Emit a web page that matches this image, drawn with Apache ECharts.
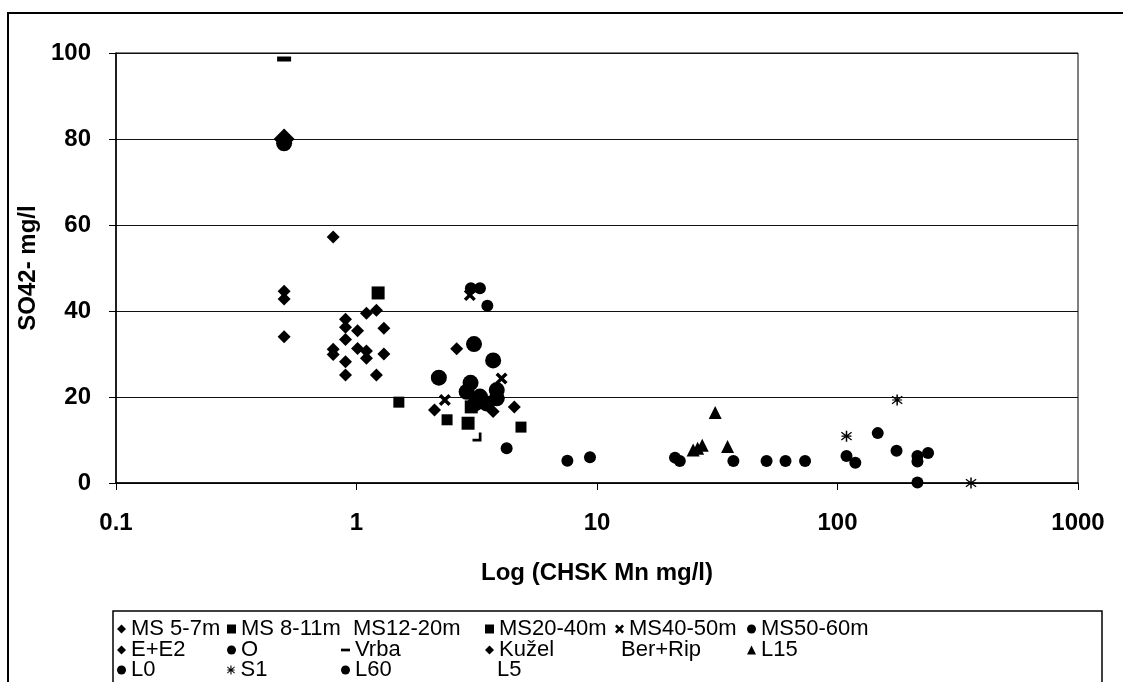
<!DOCTYPE html>
<html>
<head>
<meta charset="utf-8">
<script src="https://cdn.jsdelivr.net/npm/echarts@6/dist/echarts.min.js"></script>
<style>
html,body{margin:0;padding:0;background:#fff;}
#c{width:1123px;height:682px;}
</style>
</head>
<body>
<div id="c"></div>
<script>
// ---- data (x = CHSK Mn mg/l, y = SO42- mg/l) ----
const xTicks = [0.1, 1, 10, 100, 1000];
const yTicks = [0, 20, 40, 60, 80, 100];
const ms57 = [[0.8,31.1],[0.8,29.9],[0.9,38.1],[0.9,36.2],[0.9,33.4],[0.9,28.2],[0.9,25.1],[1.01,35.4],[1.01,31.3],[1.1,39.5],[1.1,30.7],[1.1,29.0],[1.21,40.2],[1.21,25.1],[1.3,36.0],[1.3,30.0]];
const ms811 = [[1.5,18.8],[2.38,14.7],[4.83,13.0]];
const ms1220 = [[3.17,10.7]];
const ms2040 = [[1.23,44.2],[2.91,13.9],[3.0,17.7]];
const ms4050 = [[2.96,43.7],[4.01,24.3],[2.33,19.3]];
const ms5060 = [[2.99,45.3],[3.26,45.3],[3.5,41.2],[4.21,8.1],[7.53,5.2],[9.35,6.0]];
const ee2 = [[0.5,44.6],[0.5,42.8],[0.5,34.0],[0.8,57.2],[2.61,31.2],[4.53,17.7],[3.7,16.6],[2.11,17.0]];
const oData = [[0.5,79],[3.08,32.3],[3.7,28.5],[2.2,24.5],[2.98,23.3],[2.87,21.2],[3.26,20.1],[3.83,21.6],[3.83,19.7],[3.47,18.5],[3.12,18.5]];
const vrba = [[0.5,98.6]];
const kuzel = [[0.5,80]];
const berRip = [];
const l15 = [[25.1,7.7],[26.2,8.1],[27.4,8.8],[31.0,16.4],[34.9,8.5]];
const l0 = [[21.1,5.9],[22.1,5.1],[36.9,5.1],[50.7,5.1],[60.8,5.1],[73.3,5.1]];
const s1 = [[109,10.9],[177,19.3],[359,0]];
const l60 = [[109,6.3],[118.6,4.7],[147,11.6],[176,7.5],[215,6.3],[215,5.0],[238,7.0],[215,0.1]];
const l5 = [];

const seriesNames = ['MS 5-7m','MS 8-11m','MS12-20m','MS20-40m','MS40-50m','MS50-60m','E+E2','O','Vrba','Kužel','Ber+Rip','L15','L0','S1','L60','L5'];

// ---- styles ----
const X_PATH = 'path://M0,2 L2,0 L5,3 L8,0 L10,2 L7,5 L10,8 L8,10 L5,7 L2,10 L0,8 L3,5 Z';
const AST_PATH = 'path://M4.4,0 L5.6,0 L5.6,10 L4.4,10 Z M0.6,2.0 L1.2,1.1 L9.4,8.0 L8.8,8.9 Z M8.8,1.1 L9.4,2.0 L1.2,8.9 L0.6,8.0 Z M1,4.5 L9,4.5 L9,5.5 L1,5.5 Z';
const L_PATH = 'path://M7,0 L10,0 L10,10 L0,10 L0,7 L7,7 Z';
const DASH_PATH = 'path://M0,0 L10,0 L10,3 L0,3 Z';
const FONT = 'Liberation Sans, Arial, sans-serif';
const NARROW = 'Liberation Sans Narrow, Liberation Sans, Arial, sans-serif';

function sc(name, data, symbol, size, z){
  return {name:name, type:'scatter', data:data, symbol:symbol, symbolSize:size,
    itemStyle:{color:'#000', opacity:1}, z: z||2, silent:true};
}

const series = [
  sc('MS 5-7m', ms57, 'diamond', 13),
  sc('MS 8-11m', ms811, 'rect', 11),
  sc('MS12-20m', ms1220, L_PATH, 9),
  sc('MS20-40m', ms2040, 'rect', 13),
  sc('MS40-50m', ms4050, X_PATH, 12),
  sc('MS50-60m', ms5060, 'circle', 12),
  sc('E+E2', ee2, 'diamond', 13),
  sc('O', oData, 'circle', 16),
  sc('Vrba', vrba, 'rect', [14,5]),
  sc('Kužel', kuzel, 'diamond', 21, 3),
  sc('Ber+Rip', berRip, 'none', 8),
  sc('L15', l15, 'triangle', 13),
  sc('L0', l0, 'circle', 12),
  sc('S1', s1, AST_PATH, 11),
  sc('L60', l60, 'circle', 12),
  sc('L5', l5, 'none', 8)
];

// legend: one small legend per entry, laid out in a 6-column grid
const colX = [117, 227, 341, 485, 615, 747];
const rowY = [618, 639, 659];
const noIcon = {'MS12-20m':2,'Ber+Rip':8,'L5':2};
const iconOverride = {'Vrba': DASH_PATH};
const legends = seriesNames.map((n, i) => {
  let item = {name:n};
  if (noIcon[n] !== undefined) item.icon = 'none';
  if (iconOverride[n]) item.icon = iconOverride[n];
  return {
    orient:'horizontal', left: colX[i % 6] - (noIcon[n] || 0), top: rowY[Math.floor(i / 6)], padding:0,
    itemWidth: 9, itemHeight: 9, selectedMode:false, symbolKeepAspect:true,
    textStyle:{fontFamily:NARROW, fontSize:22, lineHeight:20, color:'#000'},
    data: [item]
  };
});

const option = {
  animation:false,
  backgroundColor:'#fff',
  grid:{left:116, right:45, top:53, bottom:199, show:true, borderColor:'#000', borderWidth:1},
  xAxis:{
    type:'log', logBase:10, min:xTicks[0], max:xTicks[xTicks.length-1],
    name:'Log (CHSK Mn mg/l)', nameLocation:'middle', nameGap:78,
    nameTextStyle:{fontFamily:FONT, fontWeight:'bold', fontSize:24, color:'#000'},
    axisLine:{show:true, onZero:false, lineStyle:{color:'#000', width:1.5}},
    axisTick:{show:true, length:7, lineStyle:{color:'#000'}},
    axisLabel:{margin:28, fontFamily:FONT, fontWeight:'bold', fontSize:24, color:'#000',
      formatter: v => String(+v.toPrecision(3))},
    splitLine:{show:false}, minorTick:{show:false}
  },
  yAxis:{
    type:'value', min:yTicks[0], max:yTicks[yTicks.length-1], interval:20,
    name:'SO42- mg/l', nameLocation:'middle', nameGap:76, nameRotate:90,
    nameTextStyle:{fontFamily:FONT, fontWeight:'bold', fontSize:24, color:'#000'},
    axisLine:{show:true, lineStyle:{color:'#000', width:1.5}},
    axisTick:{show:true, length:7, lineStyle:{color:'#000'}},
    axisLabel:{margin:25, fontFamily:FONT, fontWeight:'bold', fontSize:24, color:'#000'},
    splitLine:{show:true, lineStyle:{color:'#111', width:1}}
  },
  legend: legends,
  graphic:[
    {type:'rect', shape:{x:8, y:13, width:1140, height:700}, style:{fill:'none', stroke:'#000', lineWidth:2}, silent:true},
    {type:'rect', shape:{x:113, y:611, width:989, height:100}, style:{fill:'none', stroke:'#000', lineWidth:1.5}, silent:true}
  ],
  series: series
};

const chart = echarts.init(document.getElementById('c'), null, {renderer:'canvas'});
chart.setOption(option);
</script>
</body>
</html>
